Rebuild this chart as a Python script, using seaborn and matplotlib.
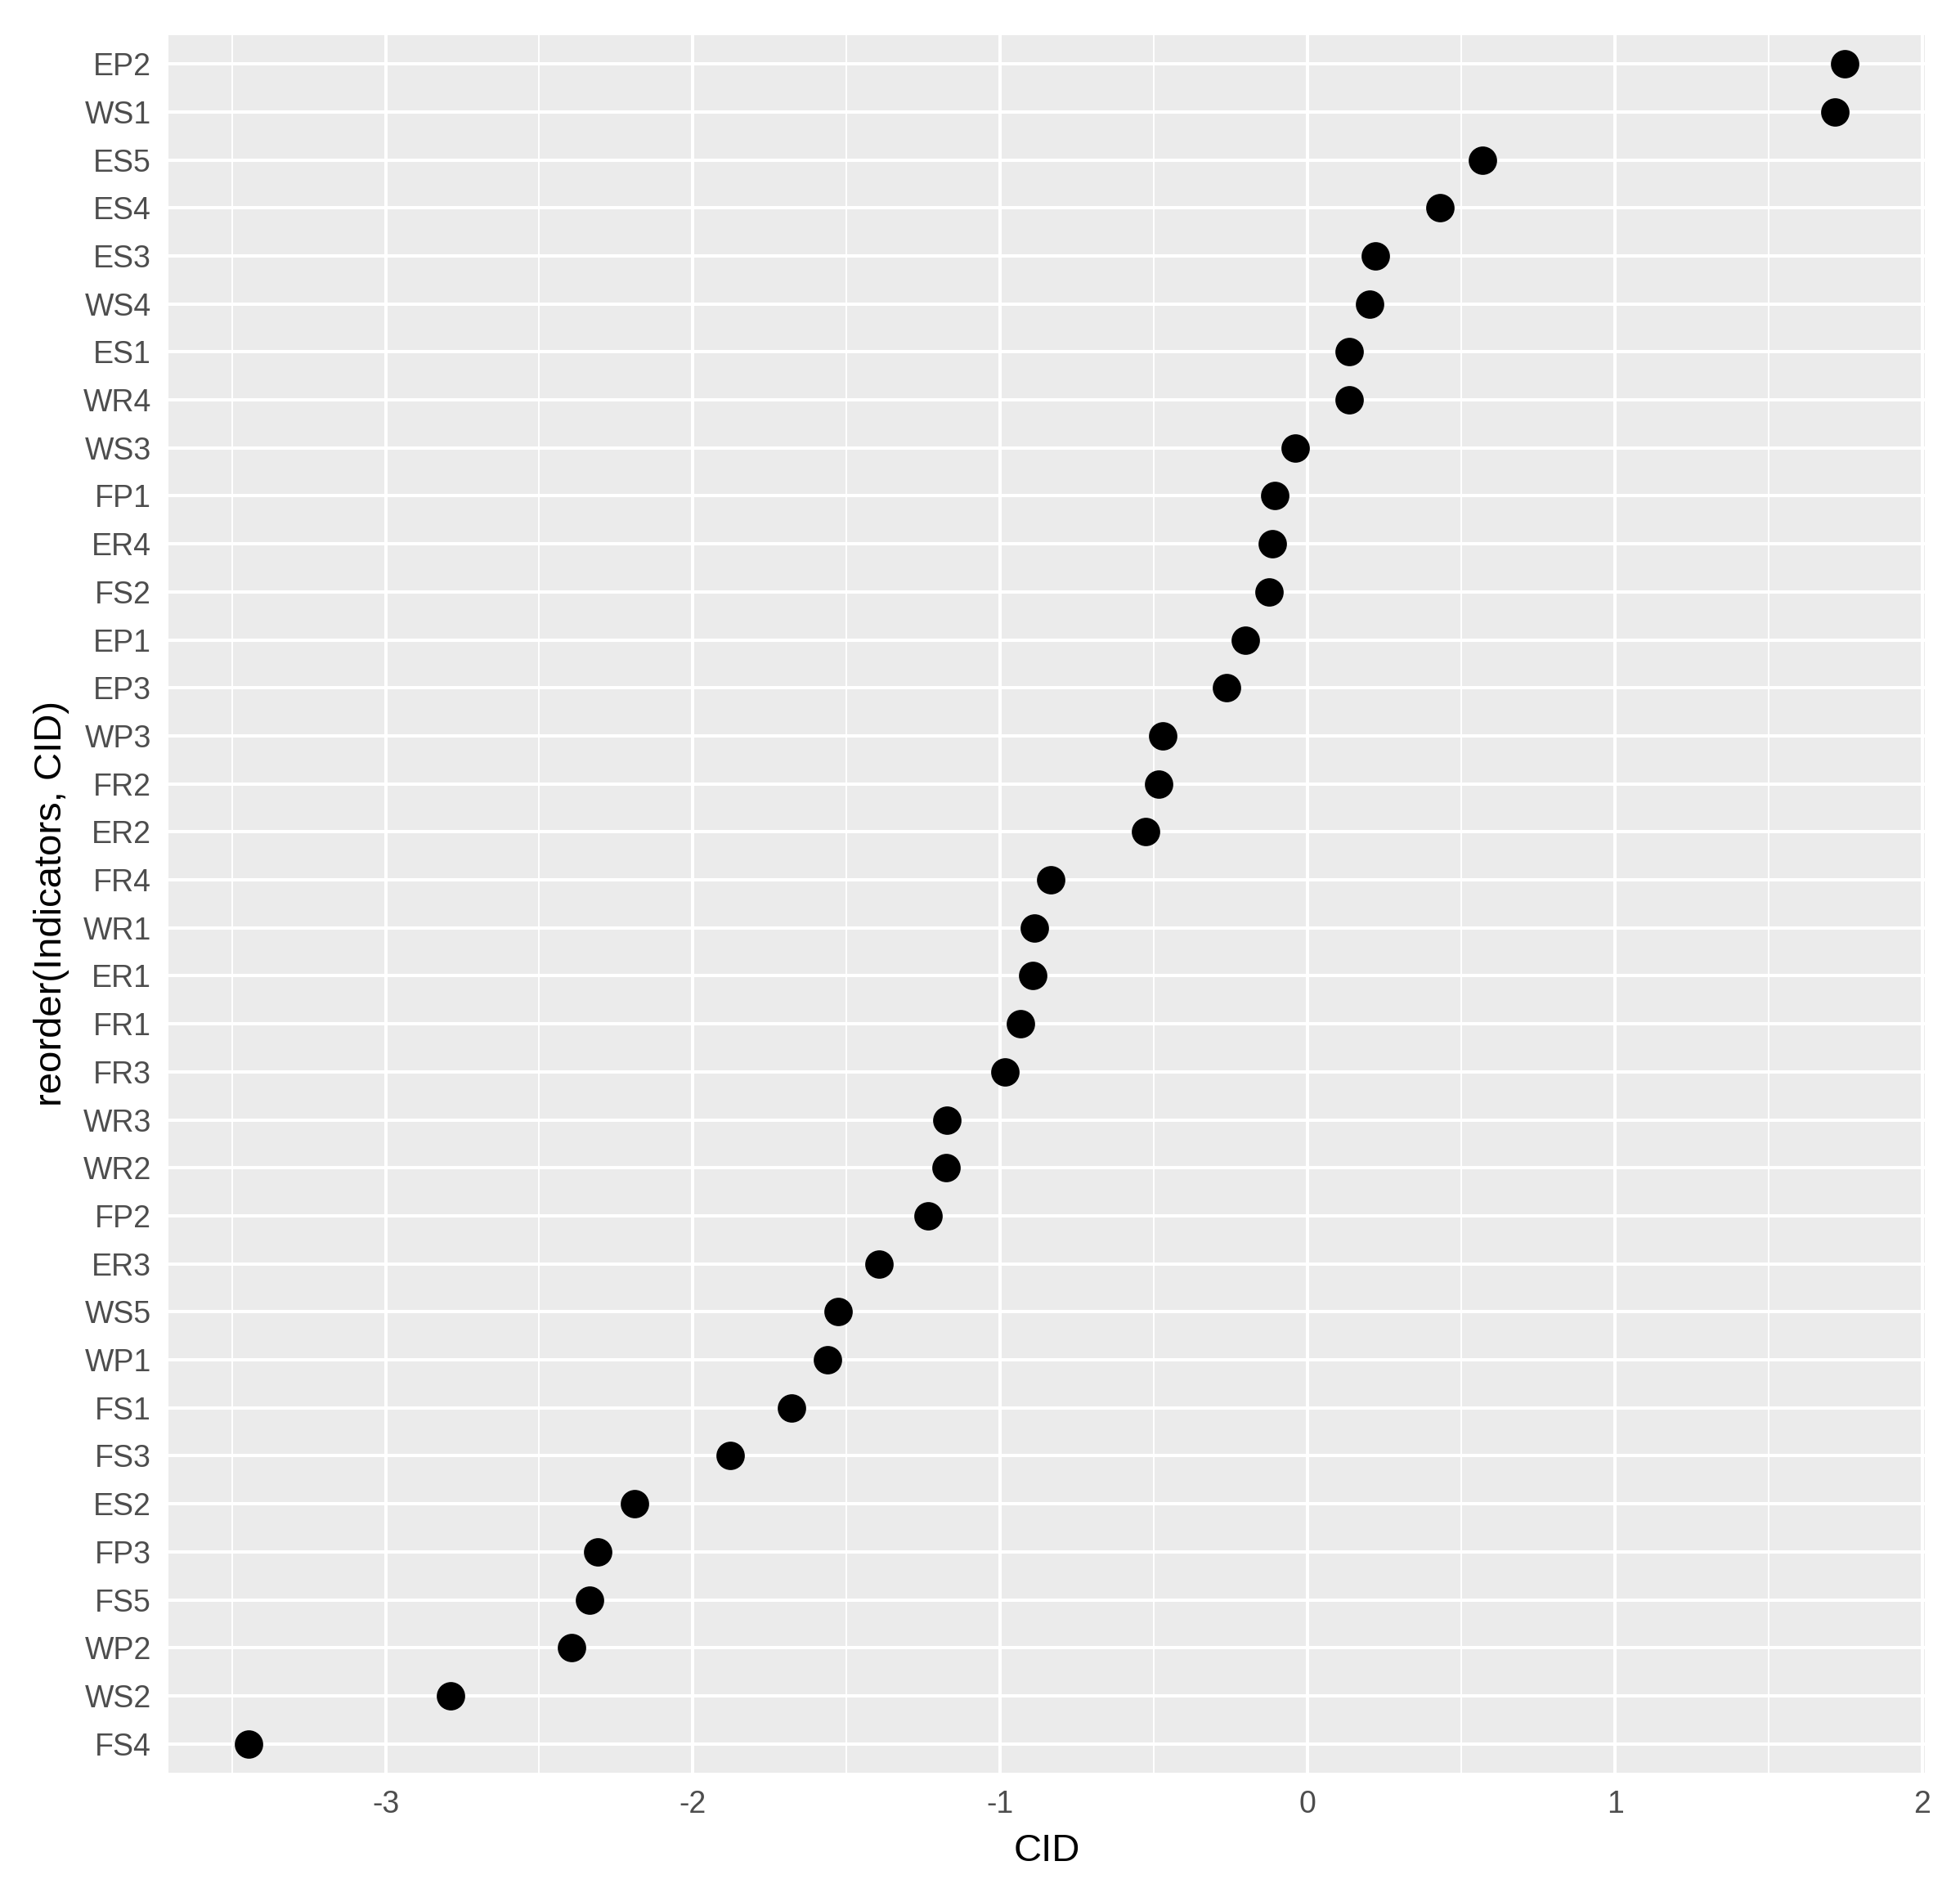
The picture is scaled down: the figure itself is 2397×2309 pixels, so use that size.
import numpy as np
import pandas as pd
import seaborn as sns
import matplotlib.pyplot as plt

# values
indicators = ['EP2', 'WS1', 'ES5', 'ES4', 'ES3', 'WS4', 'ES1', 'WR4', 'WS3', 'FP1',
              'ER4', 'FS2', 'EP1', 'EP3', 'WP3', 'FR2', 'ER2', 'FR4', 'WR1', 'ER1',
              'FR1', 'FR3', 'WR3', 'WR2', 'FP2', 'ER3', 'WS5', 'WP1', 'FS1', 'FS3',
              'ES2', 'FP3', 'FS5', 'WP2', 'WS2', 'FS4']
cid = [1.748, 1.715, 0.569, 0.431, 0.220, 0.203, 0.136, 0.134, -0.041, -0.106,
       -0.114, -0.126, -0.203, -0.264, -0.472, -0.484, -0.528, -0.837, -0.890, -0.894,
       -0.935, -0.984, -1.175, -1.176, -1.236, -1.394, -1.528, -1.561, -1.679, -1.878,
       -2.191, -2.309, -2.337, -2.394, -2.789, -3.447]
x_ticks = [-3, -2, -1, 0, 1, 2]
x_minor = [-3.5, -2.5, -1.5, -0.5, 0.5, 1.5]

df = pd.DataFrame({'Indicators': indicators, 'CID': cid})
# reorder(Indicators, CID): highest value at the top
order = df.sort_values('CID', ascending=False)['Indicators'].tolist()

sns.set_theme(style='white')
plt.rcParams['font.family'] = ['Liberation Sans', 'DejaVu Sans']

fig = plt.figure(figsize=(23.97, 23.09), dpi=100)
ax = fig.add_axes([0.0859, 0.0611, 0.8961, 0.9203])
ax.set_facecolor('#EBEBEB')

sns.stripplot(data=df, x='CID', y='Indicators', order=order, jitter=False,
              color='black', size=25, linewidth=0, ax=ax, zorder=3)

# ggplot-like expansion
lo, hi = min(cid), max(cid)
pad = 0.05 * (hi - lo)
ax.set_xlim(lo - pad, hi + pad)
ax.set_ylim(len(order) - 1 + 0.6, -0.6)

ax.set_xticks(x_ticks)
ax.set_xticklabels([str(t).replace('-', '-') for t in x_ticks])
ax.set_xticks(x_minor, minor=True)
ax.grid(which='major', color='white', linewidth=2.9)
ax.grid(which='minor', axis='x', color='white', linewidth=1.4)
ax.set_axisbelow(True)
for s in ax.spines.values():
    s.set_visible(False)

ax.tick_params(axis='both', which='major', length=6.5, width=2, color='#333333',
               labelsize=27, labelcolor='#4D4D4D', pad=8.6)
ax.tick_params(axis='x', which='minor', length=0)

ax.set_xlabel('CID', fontsize=34, color='black', labelpad=12)
ax.set_ylabel('reorder(Indicators, CID)', fontsize=34, color='black', labelpad=12)

fig.savefig('out.png', dpi=100)
